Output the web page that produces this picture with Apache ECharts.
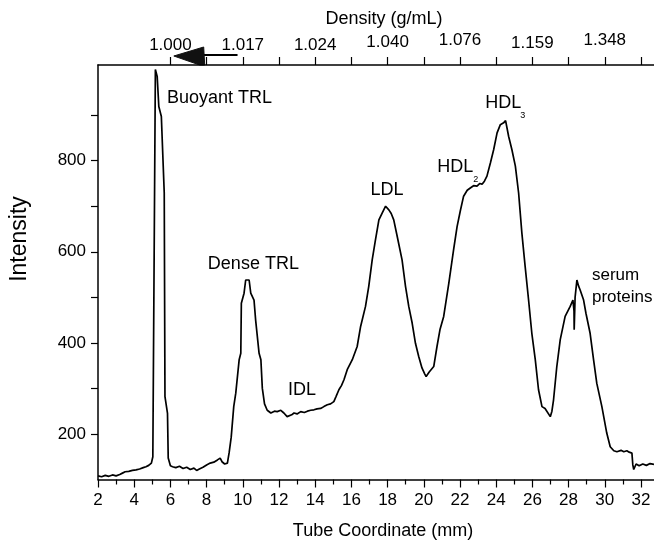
<!DOCTYPE html>
<html>
<head>
<meta charset="utf-8">
<script src="https://cdn.jsdelivr.net/npm/echarts@6/dist/echarts.min.js"></script>
<style>
  html, body { margin: 0; padding: 0; background: #fff; }
  #chart { width: 654px; height: 545px; }
</style>
</head>
<body>
<div id="chart"></div>
<script>
// Gradient profile: tube coordinate (mm) and measured intensity
const tubeCoordinate = [
  2.00, 2.20, 2.40, 2.60, 2.80, 3.00, 3.20, 3.35, 3.50, 3.70, 3.90, 4.10, 4.30, 4.50, 4.65, 4.80, 4.95,
  5.03, 5.17, 5.21, 5.27, 5.36, 5.50, 5.66, 5.70, 5.84, 5.88, 6.00, 6.12, 6.30, 6.50, 6.70, 6.90, 7.10,
  7.30, 7.45, 7.60, 7.80, 8.00, 8.20, 8.40, 8.60, 8.75, 8.85, 9.00, 9.15, 9.25, 9.36, 9.50, 9.61, 9.80,
  9.89, 9.92, 10.07, 10.16, 10.35, 10.44, 10.62, 10.71, 10.90, 11.00, 11.08, 11.20, 11.35, 11.55, 11.75,
  11.90, 12.10, 12.27, 12.45, 12.55, 12.70, 12.83, 13.00, 13.20, 13.40, 13.57, 13.75, 13.93, 14.10, 14.30,
  14.48, 14.67, 14.85, 15.03, 15.15, 15.31, 15.45, 15.59, 15.77, 16.05, 16.32, 16.51, 16.78, 16.96, 17.15,
  17.33, 17.52, 17.70, 17.89, 18.07, 18.20, 18.34, 18.53, 18.80, 18.99, 19.17, 19.36, 19.54, 19.72, 19.90,
  20.05, 20.13, 20.30, 20.55, 20.73, 20.90, 21.10, 21.38, 21.65, 21.84, 22.02, 22.20, 22.40, 22.57, 22.75,
  22.94, 23.10, 23.22, 23.35, 23.49, 23.68, 23.86, 24.05, 24.23, 24.41, 24.52, 24.58, 24.69, 24.87, 25.06,
  25.24, 25.42, 25.60, 25.79, 25.97, 26.16, 26.34, 26.53, 26.70, 26.80, 26.99, 27.08, 27.17, 27.35, 27.54,
  27.81, 28.09, 28.24, 28.30, 28.31, 28.36, 28.46, 28.55, 28.64, 28.83, 28.96, 29.19, 29.38, 29.56, 29.84,
  30.11, 30.30, 30.50, 30.67, 30.90, 31.05, 31.22, 31.35, 31.50, 31.55, 31.60, 31.73, 31.90, 32.10, 32.30,
  32.50, 32.72
];
const intensity = [
  108, 106, 109, 107, 110, 108, 111, 114, 117, 118, 120, 121, 123, 126, 128, 131, 136,
  150, 1000, 1000, 985, 919, 897, 729, 282, 245, 147, 130, 128, 126, 129, 124, 127, 122,
  125, 120, 123, 127, 132, 136, 138, 143, 147, 139, 134, 136, 160, 193, 260, 289, 363,
  377, 487, 509, 538, 538, 509, 494, 450, 377, 363, 300, 266, 252, 246, 250,
  249, 252, 246, 238, 234, 242, 246, 244, 249, 247, 250, 252, 253, 255, 256,
  260, 264, 266, 271, 282, 297, 306, 319, 341, 363, 392, 436, 480, 524, 582,
  626, 670, 685, 700, 692, 684, 670, 634, 582, 524, 480, 443, 399, 370, 345,
  332, 326, 336, 348, 392, 430, 458, 530, 605, 655, 690, 722, 735, 740, 745,
  744, 750, 748, 755, 766, 795, 824, 861, 879, 883, 888, 890, 853, 824, 788,
  729, 641, 568, 494, 421, 363, 297, 260, 256, 253, 238, 250, 275, 348, 407,
  458, 480, 494, 470, 429, 500, 538, 525, 516, 494, 465, 421, 363, 311, 260,
  202, 172, 163, 161, 164, 161, 163, 160, 158, 132, 122, 134, 130, 134, 131,
  135, 133
];

// Axis ticks and labels
const bottomMajorTicks = [2, 4, 6, 8, 10, 12, 14, 16, 18, 20, 22, 24, 26, 28, 30, 32];
const bottomMinorTicks = [3, 5, 7, 9, 11, 13, 15, 17, 19, 21, 23, 25, 27, 29, 31];
const densityTickPositions = [6, 8, 10, 12, 14, 16, 18, 20, 22, 24, 26, 28, 30, 32];
const densityLabelPositions = [6, 10, 14, 18, 22, 26, 30];
const densityLabels = ['1.000', '1.017', '1.024', '1.040', '1.076', '1.159', '1.348'];
const densityLabelLift = [0, 0, 0, 3, 5, 2, 5];
const intensityTicks = [200, 300, 400, 500, 600, 700, 800, 900];
const intensityLabels = [200, 400, 600, 800];

const X_MIN = 2, X_MAX = 32.72, Y_MIN = 100, Y_MAX = 1010;
const FONT = "'Liberation Sans', Arial, sans-serif";

const chart = echarts.init(document.getElementById('chart'), null, { renderer: 'canvas' });

const axisLineStyle = { color: '#000', width: 1.5 };
const tickStyle = { color: '#000', width: 1.2 };

chart.setOption({
  animation: false,
  backgroundColor: '#fff',
  grid: { left: 98, right: 0, top: 65, bottom: 65.5, containLabel: false, outerBoundsMode: 'none' },
  xAxis: [
    {
      type: 'value', position: 'bottom', min: X_MIN, max: X_MAX,
      axisLine: { show: true, lineStyle: axisLineStyle },
      axisTick: { show: true, inside: false, length: 8, customValues: bottomMajorTicks, lineStyle: tickStyle },
      axisLabel: { customValues: bottomMajorTicks, margin: 12, color: '#000', fontSize: 17, fontFamily: FONT },
      splitLine: { show: false }
    },
    {
      type: 'value', position: 'bottom', min: X_MIN, max: X_MAX,
      axisLine: { show: false },
      axisTick: { show: true, inside: false, length: 5, customValues: bottomMinorTicks, lineStyle: tickStyle },
      axisLabel: { show: false },
      splitLine: { show: false }
    },
    {
      type: 'value', position: 'top', min: X_MIN, max: X_MAX,
      axisLine: { show: true, lineStyle: axisLineStyle },
      axisTick: { show: true, inside: false, length: 8, customValues: densityTickPositions, lineStyle: tickStyle },
      axisLabel: {
        customValues: densityLabelPositions, margin: 11, color: '#000', fontSize: 17, fontFamily: FONT,
        formatter: function (v) {
          const i = densityLabelPositions.indexOf(Math.round(v));
          return i < 0 ? '' : '{l' + densityLabelLift[i] + '|' + densityLabels[i] + '}';
        },
        rich: {
          l0: { fontSize: 17, fontFamily: FONT, color: '#000', padding: [0, 0, 0, 0] },
          l2: { fontSize: 17, fontFamily: FONT, color: '#000', padding: [0, 0, 2, 0] },
          l3: { fontSize: 17, fontFamily: FONT, color: '#000', padding: [0, 0, 3, 0] },
          l5: { fontSize: 17, fontFamily: FONT, color: '#000', padding: [0, 0, 5, 0] }
        }
      },
      splitLine: { show: false }
    }
  ],
  yAxis: {
    type: 'value', min: Y_MIN, max: Y_MAX,
    axisLine: { show: true, lineStyle: axisLineStyle },
    axisTick: { show: true, inside: false, length: 7, customValues: intensityTicks, lineStyle: tickStyle },
    axisLabel: { customValues: intensityLabels, margin: 12, color: '#000', fontSize: 17, fontFamily: FONT },
    splitLine: { show: false }
  },
  series: [{
    type: 'line',
    xAxisIndex: 0,
    yAxisIndex: 0,
    data: tubeCoordinate.map((x, i) => [x, intensity[i]]),
    showSymbol: false,
    symbol: 'none',
    lineStyle: { color: '#000', width: 1.7 },
    clip: true
  }]
});

// Peak annotations, anchored in data space (left edge, vertical centre)
const peakLabels = [
  { text: 'Buoyant TRL', at: [5.81, 938], size: 18 },
  { text: 'Dense TRL', at: [8.07, 574], size: 18 },
  { text: 'IDL', at: [12.5, 297], size: 18 },
  { text: 'LDL', at: [17.06, 736], size: 18 },
  { text: 'HDL', at: [20.74, 786], size: 18 },
  { text: '2', at: [22.74, 759], size: 9 },
  { text: 'HDL', at: [23.4, 927], size: 18 },
  { text: '3', at: [25.33, 900], size: 9 },
  { text: 'serum', at: [29.29, 549], size: 17 },
  { text: 'proteins', at: [29.29, 499], size: 17 }
];

const toPx = (p) => chart.convertToPixel({ xAxisIndex: 0, yAxisIndex: 0 }, p);
const graphics = peakLabels.map((lab) => {
  const [px, py] = toPx(lab.at);
  return {
    type: 'text', x: px, y: py, silent: true,
    style: { text: lab.text, fill: '#000', font: lab.size + 'px ' + FONT, textAlign: 'left', textVerticalAlign: 'middle' }
  };
});

// Axis titles
graphics.push(
  { type: 'text', x: 384, y: 19, style: { text: 'Density (g/mL)', fill: '#000', font: '18px ' + FONT, textAlign: 'center', textVerticalAlign: 'middle' } },
  { type: 'text', x: 383, y: 531, style: { text: 'Tube Coordinate (mm)', fill: '#000', font: '18px ' + FONT, textAlign: 'center', textVerticalAlign: 'middle' } },
  { type: 'text', x: 20, y: 239, rotation: Math.PI / 2, style: { text: 'Intensity', fill: '#000', font: '23px ' + FONT, textAlign: 'center', textVerticalAlign: 'middle' } }
);

// Direction-of-density arrow above the top axis
const tipX = toPx([6.19, Y_MIN])[0];
const baseX = toPx([7.84, Y_MIN])[0];
const tailX = toPx([9.71, Y_MIN])[0];
graphics.push(
  { type: 'line', shape: { x1: baseX - 2, y1: 55, x2: tailX, y2: 55 }, style: { stroke: '#000', lineWidth: 2.2 } },
  { type: 'polygon', shape: { points: [[tipX, 56], [baseX, 47], [baseX + 1, 65], [baseX - 4, 65]] }, style: { fill: '#111', stroke: '#111', lineWidth: 1 } }
);

chart.setOption({ graphic: graphics });
</script>
</body>
</html>
